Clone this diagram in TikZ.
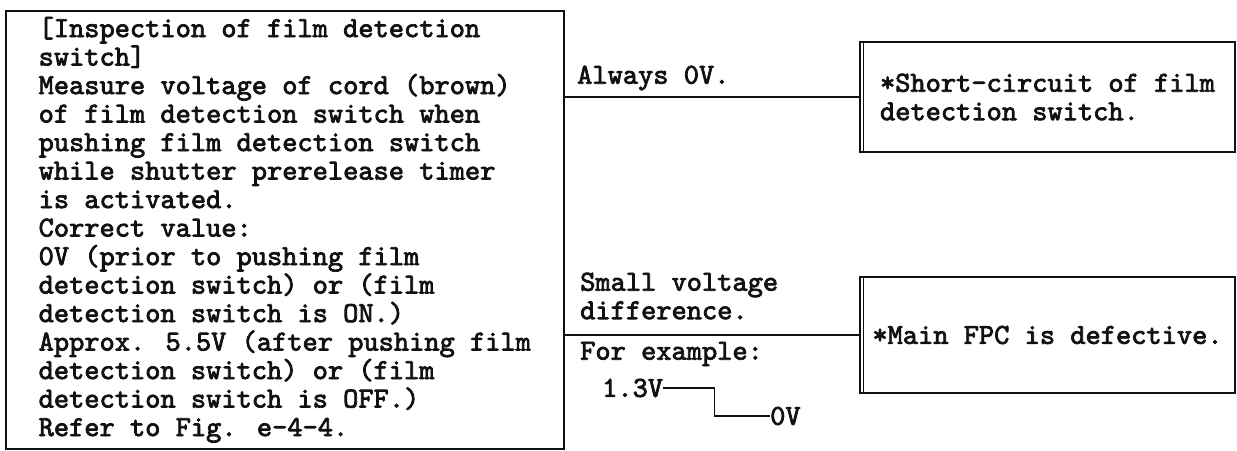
\documentclass[tikz,border=0pt]{standalone}
\usepackage{fontspec}
\newfontfamily\scanmono{lmmono10-regular.otf}[FakeBold=2.6]
\definecolor{scanInk}{RGB}{17, 17, 17}
\usetikzlibrary{positioning, calc}
\tikzset{
  memo/.style={rectangle, draw=scanInk, line width=1.6pt, text=scanInk, align=left,
    font=\scanmono\fontsize{29}{28.5}\selectfont},
  wire/.style={draw=scanInk, line width=1.6pt},
  lbl/.style={text=scanInk, anchor=west, align=left, inner sep=0pt,
    font=\scanmono\fontsize{29}{28.5}\selectfont}
}

\begin{document}
\begin{tikzpicture}[x=1pt, y=-1pt]
  \useasboundingbox (0,0) rectangle (1237,450);
  \node[memo, anchor=north west, minimum width=558pt, minimum height=438pt] (inspect) at (5,10) {%
    [Inspection of film detection\\
    switch]\\
    Measure voltage of cord (brown)\\
    of film detection switch when\\
    pushing film detection switch\\
    while shutter prerelease timer\\
    is activated.\\
    Correct value:\\
    0V (prior to pushing film\\
    detection switch) or (film\\
    detection switch is ON.)\\
    Approx. 5.5V (after pushing film\\
    detection switch) or (film\\
    detection switch is OFF.)\\
    Refer to Fig. e-4-4.};
  \foreach \nm/\yc/\bh/\txt in {
    shortckt/97/110/{*Short-circuit of film\\detection switch.},
    mainfpc/335/116/{*Main FPC is defective.}%
  } {
    \node[memo, minimum width=375pt, minimum height=\bh pt] (\nm) at (1047.5,\yc) {\txt};
    \draw[wire, line width=1pt] ([xshift=4pt]\nm.north west) -- ([xshift=4pt]\nm.south west);
  }
  \node[lbl] (always) at (577,78) {Always 0V.};
  \node[lbl] (smallv) at (580,296) {Small voltage\\difference.};
  \node[lbl] (forex) at (580,354) {For example:};
  \node[lbl] (v13) at (602,388) {1.3V};
  \node[lbl] (v0) at (770,416) {0V};
  \draw[wire] (shortckt.west) -- (shortckt.west -| inspect.east);
  \draw[wire] (mainfpc.west) -- (mainfpc.west -| inspect.east);
  \draw[wire] (v13.east) -- ++(51,0) |- (v0.west);
\end{tikzpicture}
\end{document}
